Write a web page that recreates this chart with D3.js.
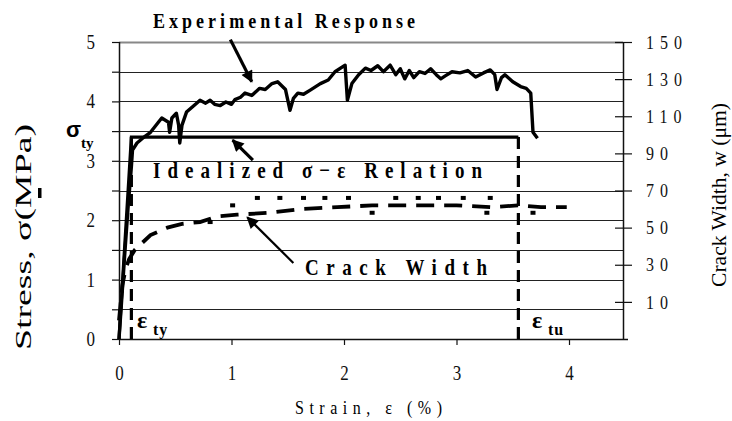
<!DOCTYPE html>
<html>
<head>
<meta charset="utf-8">
<style>
  body { margin: 0; background: #fff; }
  svg { display: block; }
</style>
</head>
<body>
<svg width="732" height="421"></svg>
<script src="https://cdn.jsdelivr.net/npm/d3@7"></script>
<script>
// ---- data ----
var expStrain = [0, 0.02, 0.05, 0.08, 0.11, 0.12, 0.16, 0.21, 0.28, 0.35, 0.38, 0.44, 0.45, 0.47, 0.51, 0.53, 0.54, 0.56, 0.6, 0.69, 0.72, 0.77, 0.81, 0.85, 0.9, 0.95, 1.0, 1.03, 1.08, 1.12, 1.18, 1.25, 1.3, 1.36, 1.41, 1.48, 1.52, 1.55, 1.59, 1.64, 1.7, 1.79, 1.86, 1.92, 2.01, 2.03, 2.07, 2.13, 2.19, 2.24, 2.3, 2.35, 2.41, 2.46, 2.5, 2.54, 2.58, 2.62, 2.67, 2.72, 2.77, 2.82, 2.86, 2.9, 2.96, 3.03, 3.1, 3.17, 3.24, 3.3, 3.34, 3.36, 3.4, 3.43, 3.5, 3.57, 3.62, 3.66, 3.68, 3.72];
var expStress = [0, 0.55, 1.4, 2.2, 2.9, 3.18, 3.3, 3.38, 3.48, 3.65, 3.72, 3.65, 3.48, 3.72, 3.8, 3.6, 3.3, 3.6, 3.82, 3.97, 4.02, 3.97, 4.02, 3.95, 3.93, 3.99, 3.95, 4.03, 4.07, 4.14, 4.1, 4.22, 4.2, 4.3, 4.33, 4.2, 3.85, 4.05, 4.14, 4.12, 4.19, 4.3, 4.36, 4.5, 4.61, 4.02, 4.3, 4.45, 4.56, 4.52, 4.6, 4.5, 4.61, 4.45, 4.55, 4.38, 4.52, 4.4, 4.5, 4.47, 4.55, 4.45, 4.38, 4.43, 4.5, 4.48, 4.52, 4.41, 4.48, 4.53, 4.45, 4.2, 4.4, 4.45, 4.33, 4.25, 4.22, 4.14, 3.48, 3.38];

var idealStrain = [0, 0.11, 3.55];
var idealStress = [0, 3.4, 3.4];
var limitStrain = [0.11, 3.55];   // ε_ty and ε_tu

var crackStrain = [0, 0.03, 0.06, 0.09, 0.14, 0.28, 0.43, 0.56, 0.72, 0.87, 1.05, 1.34, 1.61, 1.94, 2.25, 2.6, 3.0, 3.3, 3.55, 3.75, 3.98];
var crackWidth = [0, 19, 28, 33, 38, 46, 50, 52, 53, 56, 57, 58, 60, 61, 62, 62, 62, 61, 62, 61, 61];
var dotStrain = [1.01, 1.23, 1.43, 1.64, 1.83, 2.04, 2.46, 2.66, 2.84, 3.06, 3.3, 2.25, 3.27, 3.68, 0.81];
var dotWidth = [62, 66, 66, 66, 66, 66, 66, 66, 66, 66, 66, 58, 58, 58, 53];

var xTicks = [0, 1, 2, 3, 4];
var yTicks = [0, 0.5, 1, 1.5, 2, 2.5, 3, 3.5, 4, 4.5, 5];
var wTicks = [10, 30, 50, 70, 90, 110, 130, 150];

var SERIF = "'Liberation Serif', 'Times New Roman', Times, serif";
var K = 1.2;   // glyphs in the picture are a little taller than wide

var svg = d3.select("svg");
var x = d3.scaleLinear().domain([0, 4.48]).range([119, 623]);
var y = d3.scaleLinear().domain([0, 5]).range([339, 42]);
var yR = d3.scaleLinear().domain([-10, 150]).range([339, 42]);

var defs = svg.append("defs");
defs.append("marker").attr("id", "arr").attr("viewBox", "0 0 10 10")
  .attr("refX", 9).attr("refY", 5).attr("markerWidth", 16).attr("markerHeight", 12)
  .attr("markerUnits", "userSpaceOnUse").attr("orient", "auto")
  .append("path").attr("d", "M0,0L10,5L0,10Z").attr("fill", "#000");

// gridlines
svg.append("g").selectAll("line").data(yTicks.slice(1)).join("line")
  .attr("x1", x(0)).attr("x2", x(4.48))
  .attr("y1", function (d) { return Math.round(y(d)) + 0.5; })
  .attr("y2", function (d) { return Math.round(y(d)) + 0.5; })
  .attr("stroke", function (d) { return d === 5 ? "#888" : "#222"; })
  .attr("stroke-width", function (d) { return d === 5 ? 2 : 1; });

// axes
var axL = svg.append("g").attr("transform", "translate(" + x(0) + ",0)")
  .call(d3.axisLeft(y).tickValues(yTicks).tickSize(7).tickPadding(17)
    .tickFormat(function (d) { return d % 1 === 0 ? d : ""; }));
var axB = svg.append("g").attr("transform", "translate(0," + y(0) + ")")
  .call(d3.axisBottom(x).tickValues(xTicks).tickSize(6).tickPadding(21)
    .tickFormat(d3.format("d")));
var axR = svg.append("g").attr("transform", "translate(" + x(4.48) + ",0)")
  .call(d3.axisRight(yR).tickValues(wTicks).tickSize(9).tickPadding(14));
axR.selectAll(".tick line").attr("x1", -8);
axR.selectAll(".tick text").attr("letter-spacing", "6px");
axB.select(".domain").attr("d", "M119,0.5H628");
[axL, axB, axR].forEach(function (a) {
  a.attr("font-family", SERIF).attr("font-size", 17);
  a.select(".domain").attr("stroke-width", 1.5).attr("stroke", "#111");
  a.selectAll(".tick line").attr("stroke", "#111").attr("stroke-width", 1.2);
  a.selectAll(".tick text").attr("fill", "#111")
    .attr("y", function () { return (+d3.select(this).attr("y") || 0) / K; })
    .attr("transform", "scale(1," + K + ")");
});
axR.attr("font-size", 16);
axL.select(".domain").attr("d", "M0.5," + y(5) + "V" + y(0));
axR.select(".domain").attr("d", "M0.5," + y(5) + "V" + y(0));

var line = d3.line().x(function (d) { return x(d[0]); }).y(function (d) { return d[1]; });

// idealized relation
svg.append("path")
  .attr("d", line(idealStrain.map(function (s, i) { return [s, y(idealStress[i])]; })))
  .attr("fill", "none").attr("stroke", "#000").attr("stroke-width", 3.2);
svg.append("g").selectAll("line").data(limitStrain).join("line")
  .attr("x1", x).attr("x2", x).attr("y1", y(3.4)).attr("y2", y(0))
  .attr("stroke", "#000").attr("stroke-width", 3.2).attr("stroke-dasharray", "12,7");

// crack width
svg.append("path")
  .attr("d", line(crackStrain.map(function (s, i) { return [s, yR(crackWidth[i])]; })))
  .attr("fill", "none").attr("stroke", "#000").attr("stroke-width", 3.8)
  .attr("stroke-dasharray", "18,10");
svg.append("g").selectAll("rect").data(dotStrain).join("rect")
  .attr("x", function (d) { return x(d) - 2.5; })
  .attr("y", function (d, i) { return yR(dotWidth[i]) - 2; })
  .attr("width", 5).attr("height", 4).attr("fill", "#000");

// experimental response
svg.append("path")
  .attr("d", line(expStrain.map(function (s, i) { return [s, y(expStress[i])]; })))
  .attr("fill", "none").attr("stroke", "#000").attr("stroke-width", 3.4)
  .attr("stroke-linejoin", "round");

// annotation arrows (data units)
var arrows = [
  { from: [0.99, 5.04], to: [1.18, 4.33], w: 3.2 },
  { from: [1.19, 3.01], to: [1.01, 3.35], w: 3.2 },
  { from: [1.55, 1.28], to: [1.14, 2.05], w: 2.2 }
];
svg.append("g").selectAll("line").data(arrows).join("line")
  .attr("x1", function (d) { return x(d.from[0]); }).attr("y1", function (d) { return y(d.from[1]); })
  .attr("x2", function (d) { return x(d.to[0]); }).attr("y2", function (d) { return y(d.to[1]); })
  .attr("stroke", "#000").attr("stroke-width", function (d) { return d.w; })
  .attr("marker-end", "url(#arr)");

// annotation labels
function label(txt, px, py, len, size) {
  return svg.append("text").attr("font-family", SERIF)
    .attr("transform", "translate(" + px + "," + py + ")scale(1," + K + ")")
    .attr("font-size", size).attr("font-weight", "bold")
    .attr("textLength", len).attr("lengthAdjust", "spacing").text(txt);
}
label("Experimental Response", 153, 28, 262, 18);
label("Idealized σ−ε Relation", 153, 178, 329, 19);
label("Crack Width", 305, 275, 182, 19);

svg.append("text").attr("font-family", "'Liberation Sans', Arial, sans-serif").attr("x", 66).attr("y", 137)
  .attr("font-weight", "bold").attr("font-size", 22).text("σ");
svg.append("text").attr("font-family", SERIF).attr("x", 81).attr("y", 148)
  .attr("font-weight", "bold").attr("font-size", 15).text("ty");
[[137, "ty"], [532, "tu"]].forEach(function (e) {
  svg.append("text").attr("font-family", SERIF).attr("x", e[0]).attr("y", 328)
    .attr("font-weight", "bold").attr("font-size", 24).text("ε");
  svg.append("text").attr("font-family", SERIF).attr("x", e[0] + 16).attr("y", 335)
    .attr("font-weight", "bold").attr("font-size", 16).attr("letter-spacing", "1px").text(e[1]);
});

// axis titles
svg.append("text").attr("font-family", SERIF).attr("transform", "translate(31,237)rotate(-90)")
  .attr("text-anchor", "middle").attr("font-size", 23)
  .attr("textLength", 226).attr("lengthAdjust", "spacingAndGlyphs").text("Stress, σ(MPa)");
svg.append("rect").attr("x", 38).attr("y", 188).attr("width", 3.5).attr("height", 10).attr("fill", "#000");
svg.append("text").attr("font-family", SERIF).attr("transform", "translate(726,195)rotate(-90)")
  .attr("text-anchor", "middle").attr("font-size", 20)
  .attr("textLength", 184).attr("lengthAdjust", "spacingAndGlyphs").text("Crack Width, w  (μm)");
svg.append("text").attr("font-family", SERIF)
  .attr("transform", "translate(295,414)scale(1," + K + ")")
  .attr("font-size", 16).attr("textLength", 147).attr("lengthAdjust", "spacing").text("Strain, ε (%)");
</script>
</body>
</html>
